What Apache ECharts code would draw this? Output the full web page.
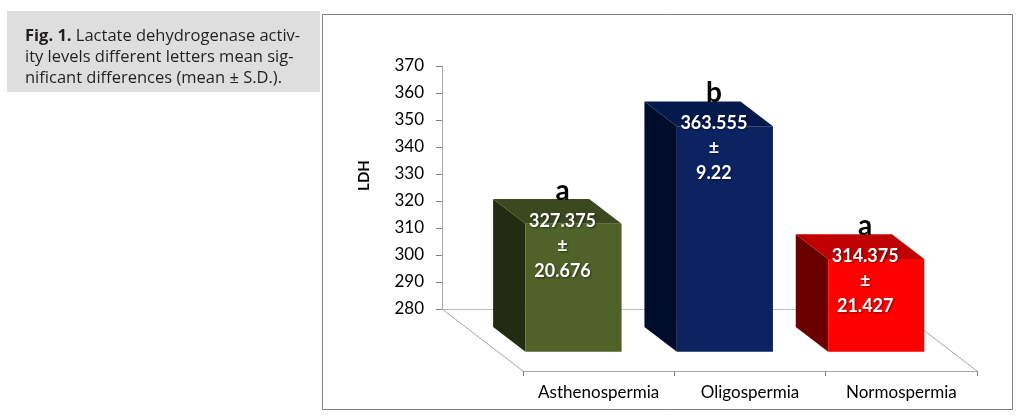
<!DOCTYPE html>
<html>
<head>
<meta charset="utf-8">
<script src="https://cdn.jsdelivr.net/npm/echarts@6/dist/echarts.min.js"></script>
<style>
  html, body { margin: 0; padding: 0; background: #fff; }
  #chart { width: 1021px; height: 420px; }
</style>
</head>
<body>
<div id="chart"></div>
<script>
// data
let categories = ['Asthenospermia', 'Oligospermia', 'Normospermia'];
let means = [327.375, 363.555, 314.375];
let sds = ['20.676', '9.22', '21.427'];
let letters = ['a', 'b', 'a'];
let meanLabels = ['327.375', '363.555', '314.375'];

// face colours: front, side, top
let frontColors = ['#4f6228', '#0b2361', '#ff0000'];
let sideColors = ['#232b12', '#000c2c', '#6b0000'];
let topColors = ['#3a4a1e', '#041a4c', '#c00000'];

let yMin = 280, yMax = 370;

// floor depth (back wall -> front edge) in px
let depthX = 81, depthY = 62;
let barBack = 0.29, barFront = 0.69;

var myChart = echarts.init(document.getElementById('chart'));

let font = 'Lato';

function renderFloor(params, api) {
    let cs = params.coordSys;
    let bl = [cs.x, cs.y + cs.height];
    let br = [cs.x + cs.width, cs.y + cs.height];
    let style = { stroke: '#a6a6a6', lineWidth: 1 };
    return {
        type: 'group',
        children: [
            { type: 'line', shape: { x1: bl[0], y1: bl[1], x2: bl[0] + depthX, y2: bl[1] + depthY }, style: style },
            { type: 'line', shape: { x1: br[0], y1: br[1], x2: br[0] + depthX, y2: br[1] + depthY }, style: style }
        ]
    };
}

function renderBar(params, api) {
    let i = api.value(0);
    let base = api.coord([i, yMin]);
    let top = api.coord([i, api.value(1)]);
    let bw = api.size([1, 0])[0] * 0.635;
    let x0 = base[0] - bw / 2;

    let bx = x0 + depthX * barBack, by = depthY * barBack;
    let fx = x0 + depthX * barFront, fy = depthY * barFront;

    let backTop = top[1] + by, backBot = base[1] + by;
    let frontTop = top[1] + fy, frontBot = base[1] + fy;

    let idx = params.dataIndex;
    let cx = fx + bw / 2 - 11;

    return {
        type: 'group',
        children: [
            {
                type: 'polygon',
                shape: { points: [[bx, backTop], [fx, frontTop], [fx, frontBot], [bx, backBot]] },
                style: { fill: sideColors[idx] }
            },
            {
                type: 'polygon',
                shape: { points: [[bx, backTop], [bx + bw, backTop], [fx + bw, frontTop], [fx, frontTop]] },
                style: { fill: topColors[idx] }
            },
            {
                type: 'rect',
                shape: { x: fx, y: frontTop, width: bw, height: frontBot - frontTop },
                style: { fill: frontColors[idx] }
            },
            {
                type: 'text',
                x: cx, y: frontTop - 15,
                style: {
                    text: meanLabels[idx] + '\n±\n' + sds[idx],
                    fill: '#fff', font: 'bold 18px ' + font,
                    lineHeight: 25, align: 'center', verticalAlign: 'top',
                    textShadowColor: 'rgba(0,0,0,0.5)', textShadowBlur: 2, textShadowOffsetX: 1, textShadowOffsetY: 1
                }
            },
            {
                type: 'text',
                x: cx, y: backTop + 6,
                style: {
                    text: letters[idx], fill: '#000', font: 'bold 28px ' + font,
                    align: 'center', verticalAlign: 'bottom'
                }
            }
        ]
    };
}

let option = {
    animation: false,
    textStyle: { fontFamily: font },
    graphic: [
        {
            type: 'rect', left: 7, top: 11,
            shape: { width: 313, height: 81 },
            style: { fill: '#dedede' }
        },
        {
            type: 'text', left: 25, top: 26,
            style: {
                text: '{b|Fig. 1.} Lactate dehydrogenase activ-\nity levels different letters mean sig-\nnificant differences (mean ± S.D.).',
                font: '16.5px "Open Sans"', fill: '#231f20', lineHeight: 21,
                rich: { b: { fontWeight: 'bold', fontFamily: 'Open Sans', fontSize: 16.5, fill: '#231f20' } }
            }
        },
        {
            type: 'rect', left: 320, top: 12,
            shape: { width: 690, height: 395 },
            style: { fill: 'none', stroke: '#808080', lineWidth: 1 }
        }
    ],
    grid: [
        { left: 442, top: 66, width: 454, height: 243 },
        { left: 523, top: 128, width: 454, height: 243 }
    ],
    xAxis: [
        {
            type: 'category', gridIndex: 0, data: categories,
            axisLine: { lineStyle: { color: '#bfbfbf' } },
            axisTick: { show: false }, axisLabel: { show: false }
        },
        {
            type: 'category', gridIndex: 1, data: categories,
            axisLine: { lineStyle: { color: '#a6a6a6' } },
            axisTick: { show: true, length: 5, lineStyle: { color: '#808080' } },
            axisLabel: { color: '#000', fontSize: 17, margin: 13, interval: 0, hideOverlap: false }
        }
    ],
    yAxis: [
        {
            type: 'value', gridIndex: 0, min: yMin, max: yMax, interval: 10,
            name: 'LDH', nameLocation: 'middle', nameGap: 70,
            nameTextStyle: { fontWeight: 'bold', fontSize: 15, color: '#000', padding: [0, 0, 0, 24] },
            axisLine: { show: true, lineStyle: { color: '#a6a6a6' } },
            axisTick: { show: true, length: 6, lineStyle: { color: '#808080' } },
            axisLabel: { color: '#000', fontSize: 17, margin: 18 },
            splitLine: { show: false }
        },
        {
            type: 'value', gridIndex: 1, min: yMin, max: yMax, show: false
        }
    ],
    series: [
        {
            type: 'custom', xAxisIndex: 0, yAxisIndex: 0,
            renderItem: renderFloor, data: [[0, yMin]], silent: true, clip: false
        },
        {
            type: 'custom', xAxisIndex: 0, yAxisIndex: 0,
            renderItem: renderBar, clip: false,
            data: categories.map((c, i) => [i, means[i]])
        }
    ]
};

myChart.setOption(option);
</script>
</body>
</html>
